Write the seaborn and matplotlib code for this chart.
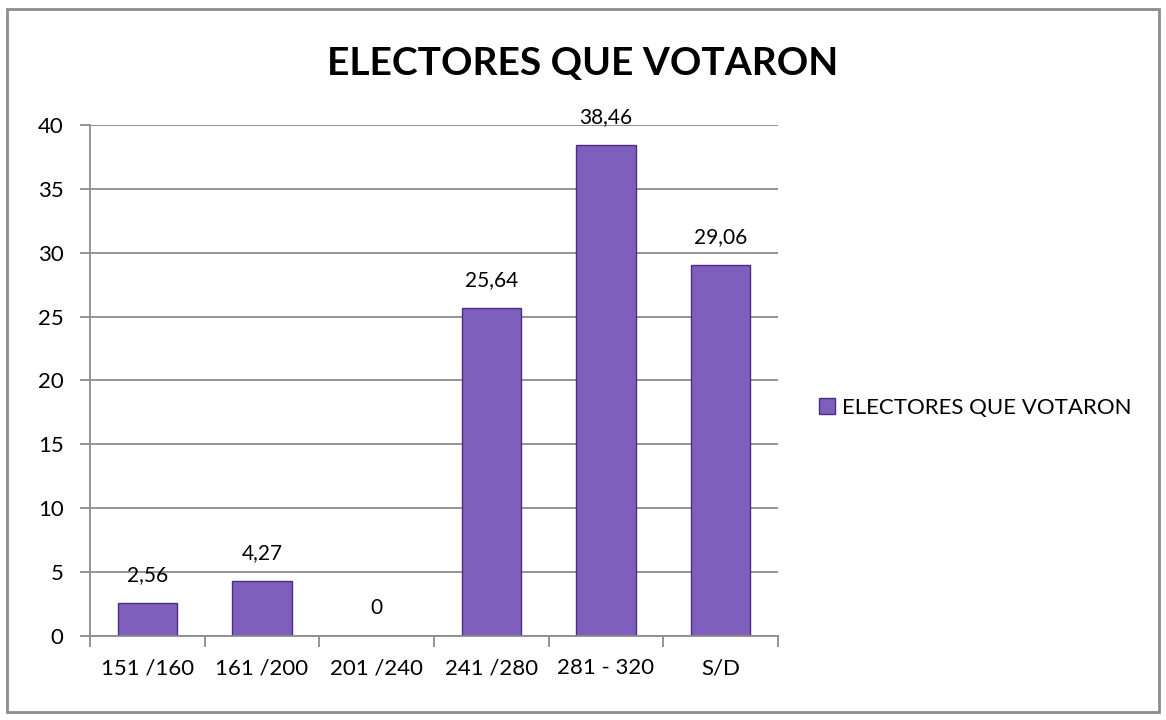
import numpy as np
import pandas as pd
import matplotlib
matplotlib.use("Agg")
import matplotlib.pyplot as plt
from matplotlib.patches import Rectangle
import seaborn as sns

# Datos del gráfico
categorias = ["151 /160", "161 /200", "201 /240", "241 /280", "281 - 320", "S/D"]
valores = [2.56, 4.27, 0, 25.64, 38.46, 29.06]
etiquetas = ["2,56", "4,27", "0", "25,64", "38,46", "29,06"]
serie = "ELECTORES QUE VOTARON"

sns.set_theme(style="white")
plt.rcParams["font.family"] = ["Lato", "DejaVu Sans"]

df = pd.DataFrame({"rango": categorias, "valor": valores})

fig = plt.figure(figsize=(11.66, 7.2), dpi=100)
ax = fig.add_axes([0.0772, 0.1167, 0.590, 0.7097])

sns.barplot(data=df, x="rango", y="valor", color="#7f5fbd", width=0.52,
            edgecolor="#4a2c80", linewidth=1.0, saturation=1, label=serie, ax=ax)

# etiquetas de datos
for i, (v, t) in enumerate(zip(valores, etiquetas)):
    ax.text(i, v + 1.4, t, ha="center", va="bottom", fontsize=15, color="black")

ax.set_ylim(0, 40)
ax.set_xlim(-0.5, 5.5)
ax.set_yticks(range(0, 41, 5))
ax.yaxis.grid(True, color="#8c8c8c", linewidth=1.3)
ax.set_axisbelow(True)
ax.set_xlabel("")
ax.set_ylabel("")

for s in ["top", "right"]:
    ax.spines[s].set_visible(False)
for s in ["left", "bottom"]:
    ax.spines[s].set_color("#8c8c8c")
    ax.spines[s].set_linewidth(1.3)

ax.tick_params(axis="y", labelsize=16, length=7, width=1.3, color="#8c8c8c",
               direction="out", left=True, pad=12, labelcolor="black")
ax.tick_params(axis="x", which="major", labelsize=16, length=0, pad=16, labelcolor="black")
ax.set_xticks(np.arange(-0.5, 6, 1), minor=True)
ax.tick_params(axis="x", which="minor", length=8, width=1.3, color="#8c8c8c",
               direction="out", bottom=True)

fig.text(0.5, 0.912, serie, ha="center", va="center", fontsize=28,
         fontweight="bold", color="black")

ax.legend(loc="center left", bbox_to_anchor=(1.06, 0.446), frameon=False,
          fontsize=16, handlelength=0.72, handleheight=0.72, handletextpad=0.3,
          borderpad=0, borderaxespad=0, labelcolor="black")

# marco exterior
fig.patches.append(Rectangle((0.006, 0.011), 0.988, 0.976, transform=fig.transFigure,
                             fill=False, edgecolor="#8c8c8c", linewidth=2))

fig.savefig("out.png", dpi=100)
